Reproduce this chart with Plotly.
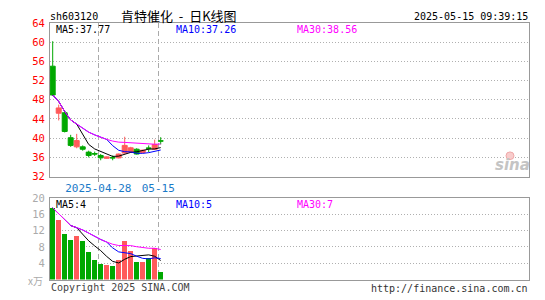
import plotly.graph_objects as go
import pandas as pd

# ---------------- data ----------------
dates = ["2025-04-16", "2025-04-17", "2025-04-18", "2025-04-21", "2025-04-22",
         "2025-04-23", "2025-04-24", "2025-04-25", "2025-04-28", "2025-04-29",
         "2025-04-30", "2025-05-06", "2025-05-07", "2025-05-08", "2025-05-09",
         "2025-05-12", "2025-05-13", "2025-05-14", "2025-05-15"]
opens = [55.0, 45.2, 45.3, 40.1, 38.2, 38.2, 37.1, 36.8, 36.4, 35.8,
         35.95, 35.9, 36.9, 37.1, 37.7, 37.0, 37.95, 37.7, 39.45]
highs = [60.2, 47.0, 45.7, 40.7, 40.9, 38.5, 37.4, 37.2, 36.7, 36.2,
         36.4, 36.8, 40.3, 38.2, 37.9, 37.6, 38.5, 39.7, 40.2]
lows = [48.8, 43.7, 41.2, 38.2, 37.9, 37.4, 36.0, 36.3, 35.4, 35.7,
        35.4, 35.8, 36.8, 37.0, 36.6, 36.9, 37.1, 37.6, 38.7]
closes = [49.0, 46.3, 41.4, 38.5, 39.5, 37.7, 36.4, 36.7, 35.9, 36.1,
          35.9, 36.7, 38.5, 38.0, 36.7, 37.5, 37.9, 38.7, 39.4]
volumes = [17.6, 14.7, 11.1, 9.6, 10.6, 9.4, 6.8, 4.9, 3.8, 3.5,
           3.3, 4.9, 9.4, 7.1, 4.2, 4.2, 5.4, 7.7, 1.9]

tick_dates = ["2025-04-28", "2025-05-15"]
tick_labels = ["2025-04-28", "05-15"]
price_ticks = [32, 36, 40, 44, 48, 52, 56, 60, 64]
volume_ticks = [4, 8, 12, 16, 20]
price_ma_labels = ["MA5:37.77", "MA10:37.26", "MA30:38.56"]
volume_ma_labels = ["MA5:4", "MA10:5", "MA30:7"]
ma_windows = [5, 10, 30]
ma_colors = ["#000000", "#0000ff", "#ff00ff"]

title_code = "sh603120"
title_name = "肯特催化\u00a0\u00a0-\u00a0\u00a0日K线图"
timestamp = "2025-05-15 09:39:15"

# ---------------- styling ----------------
W, H = 545, 300
RED = "#ff5a5a"
GREEN = "#00a800"
MONO = "DejaVu Sans Mono"
CJK = "Noto Sans CJK SC"
FRAME = "#999999"


def px(x):
    return x / W


def py(y):
    return 1 - y / H


x = list(range(len(dates)))
tickpos = [dates.index(d) - 0.4 for d in tick_dates]
xrange_ = [-0.45, -0.45 + 479 / 6]

fig = go.Figure()

fig.add_trace(go.Candlestick(
    x=x, open=opens, high=highs, low=lows, close=closes,
    increasing=dict(line=dict(color=RED, width=1), fillcolor=RED),
    decreasing=dict(line=dict(color=GREEN, width=1), fillcolor=GREEN),
    whiskerwidth=0, xaxis="x", yaxis="y", showlegend=False, hoverinfo="skip",
))

cs = pd.Series(closes)
for n, c in zip(ma_windows, ma_colors):
    fig.add_trace(go.Scatter(x=x, y=cs.rolling(n, min_periods=1).mean(),
                             mode="lines", line=dict(color=c, width=1),
                             xaxis="x", yaxis="y", showlegend=False, hoverinfo="skip"))

vcolors = [RED if c > o else GREEN for o, c in zip(opens, closes)]
fig.add_trace(go.Bar(x=x, y=volumes, marker=dict(color=vcolors, line=dict(width=0)),
                     width=0.8, xaxis="x2", yaxis="y2", showlegend=False, hoverinfo="skip"))

vs = pd.Series(volumes)
for n, c in zip(ma_windows, ma_colors):
    fig.add_trace(go.Scatter(x=x, y=vs.rolling(n, min_periods=1).mean(),
                             mode="lines", line=dict(color=c, width=1),
                             xaxis="x2", yaxis="y2", showlegend=False, hoverinfo="skip"))

xdom = [px(50), px(529)]
common_x = dict(domain=xdom, range=xrange_, tickvals=tickpos, showgrid=True,
                gridcolor="#aaaaaa", griddash="5px,3px", gridwidth=1,
                showline=True, mirror=True, linecolor=FRAME, linewidth=1,
                zeroline=False, fixedrange=True)
common_y = dict(showgrid=True, gridcolor="#b0b0b0", griddash="1px,2px", gridwidth=1,
                showline=True, mirror=True, linecolor=FRAME, linewidth=1,
                zeroline=False, ticks="", fixedrange=True, ticklabelstandoff=2)

fig.update_layout(
    width=W, height=H, margin=dict(l=0, r=0, t=0, b=0),
    paper_bgcolor="white", plot_bgcolor="white",
    boxgap=0.17, boxgroupgap=0, bargap=0,
    xaxis=dict(**common_x, anchor="y", ticktext=tick_labels, ticks="outside",
               ticklen=4, tickcolor=FRAME, ticklabelstandoff=-3,
               tickfont=dict(family=MONO, size=11, color="#1a7ac8"),
               rangeslider=dict(visible=False)),
    yaxis=dict(**common_y, domain=[py(177.7), py(17.7)], range=[32, 64],
               tickvals=price_ticks, tickfont=dict(family=MONO, size=10.5, color="#ff0000")),
    xaxis2=dict(**common_x, anchor="y2", showticklabels=False, ticks=""),
    yaxis2=dict(**common_y, domain=[py(285), py(200)], range=[0, 20],
                tickvals=volume_ticks, tickfont=dict(family=MONO, size=10.5, color="#aaaaaa")),
)

ann = []


def text(t, x0, y0, xanchor="left", size=10, color="#000", family=MONO, **kw):
    ann.append(dict(text=t, x=px(x0), y=py(y0), xref="paper", yref="paper",
                    xanchor=xanchor, yanchor="middle", showarrow=False,
                    font=dict(family=family, size=size, color=color, **kw)))


text(title_code, 48, 11, size=10)
text(title_name, 119, 10, size=13, family=CJK)
text(timestamp, 530, 11, xanchor="right", size=10)

ma_x = [54, 174, 295]
for lab, xx, c in zip(price_ma_labels, ma_x, ma_colors):
    text(lab, xx, 24.5, size=10, color=c)
for lab, xx, c in zip(volume_ma_labels, ma_x, ma_colors):
    text(lab, xx, 206.5, size=10, color=c)

text("x万", 45, 286, xanchor="right", size=10, color="#aaaaaa", family=CJK)
text("Copyright 2025 SINA.COM", 49, 293, size=10, color="#444444")
text("http://finance.sina.com.cn", 530, 294, xanchor="right", size=10, color="#333333")
text("sina", 512, 166, xanchor="center", size=15, color="#c4c4c4",
     family="DejaVu Sans", style="italic", weight="bold")

fig.update_layout(annotations=ann)
fig.add_shape(type="circle", xref="paper", yref="paper",
              x0=px(506), x1=px(514), y0=py(160), y1=py(152),
              fillcolor="#f8cccc", line=dict(color="#f0a8a8", width=1), layer="above")

fig.write_html("out.html")
